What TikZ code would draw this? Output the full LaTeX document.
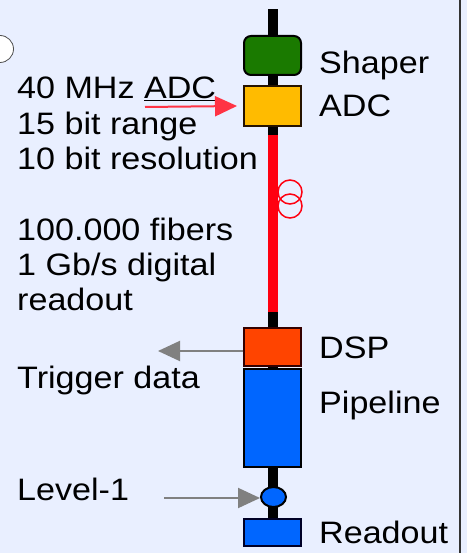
\documentclass[tikz,border=0pt]{standalone}
\usepackage{fontspec}
\setmainfont{Liberation Sans}[FakeStretch=1.1]
\usetikzlibrary{arrows.meta,shapes.geometric}
\definecolor{bg}{HTML}{E9EFFF}
\definecolor{shapergreen}{HTML}{1A7A00}
\definecolor{adcyellow}{HTML}{FFBB00}
\definecolor{dsporange}{HTML}{FF4400}
\definecolor{pipeblue}{HTML}{0066FF}
\definecolor{fibred}{HTML}{FF0010}
\definecolor{arrred}{HTML}{FF3344}
\definecolor{arrgray}{HTML}{808080}
\begin{document}
\begin{tikzpicture}[x=1pt,y=-1pt,
  lbl/.style={anchor=base west, inner sep=0pt, font=\fontsize{31}{36}\selectfont},
  chainbox/.style={draw, line width=2pt, minimum width=57pt, inner sep=0pt},
  spine/.style={line width=10pt, draw=black},
  fiber/.style={line width=10pt, draw=fibred},
  loopline/.style={draw=fibred, line width=1.5pt},
  grayarrow/.style={draw=arrgray, line width=2pt, -{Triangle[length=22pt,width=20pt]}},
  redarrow/.style={draw=arrred, line width=2pt, -{Triangle[length=22pt,width=20pt]}}]
\useasboundingbox (0,0) rectangle (467,553);
\fill[bg] (0,0) rectangle (467,553);
\draw[line width=2pt, draw=black!80] (459.5,0) -- (459.5,553);
\fill[white] (0,49) circle (13.5);
\draw[black!70, line width=0.8pt] (0,49) circle (13.5);

% spine
\coordinate (top) at (273,9.5);
\coordinate (rbot) at (273,519);
\draw[spine] (top) -- (rbot);
\coordinate (fa) at (273,135);
\coordinate (fb) at (273,312);
\draw[loopline] (290,192) circle (12);
\draw[loopline] (290,206) circle (12);
\draw[fiber] (fa) -- (fb);

% boxes
\node[chainbox, fill=shapergreen, rounded corners=7pt, minimum height=39pt] (shaper) at (272.5,55.5) {};
\node[chainbox, fill=adcyellow, draw=black!85!orange, minimum height=40pt] (adc) at (272.5,106) {};
\node[chainbox, fill=dsporange, draw=black!80!red, line width=1.5pt, minimum height=38pt] (dsp) at (272.5,347) {};
\node[chainbox, fill=pipeblue, minimum height=98pt] (pipe) at (272.5,418) {};
\node[chainbox, fill=pipeblue, draw=black!85!blue, minimum height=27pt] (readout) at (272.5,532.5) {};
\node[ellipse, draw, line width=2pt, fill=pipeblue, minimum width=25pt, minimum height=20pt, inner sep=0pt] (lvl) at (273.5,497) {};

% labels right
\node[lbl] (tshaper) at (319,74) {Shaper};
\node[lbl] (tadc) at (319,117) {ADC};
\node[lbl] (tdsp) at (319,358) {DSP};
\node[lbl] (tpipe) at (319,413) {Pipeline};
\node[lbl] (tread) at (319,543) {Readout};

% labels left
\node[lbl] (l1) at (17,99) {40 MHz ADC};
\draw[black, line width=0.8pt] (144,100.5) -- (216,100.5);
\node[lbl] (l2) at (17,135) {15 bit range};
\node[lbl] (l3) at (17,170) {10 bit resolution};
\node[lbl] (l4) at (17,240) {100.000 fibers};
\node[lbl] (l5) at (17,275) {1 Gb/s digital};
\node[lbl] (l6) at (17,310) {readout};
\node[lbl] (ltrig) at (17,388) {Trigger data};
\node[lbl] (llvl) at (17,500) {Level-1};

% arrows
\coordinate (rstart) at (145,107);
\draw[redarrow] (rstart) -- ([xshift=-6pt]adc.west);
\coordinate (tend) at (158,351);
\draw[grayarrow] (dsp.west |- tend) -- (tend);
\coordinate (lstart) at (164,498);
\draw[grayarrow] (lstart) -- (lvl.west |- lstart);
\end{tikzpicture}
\end{document}
